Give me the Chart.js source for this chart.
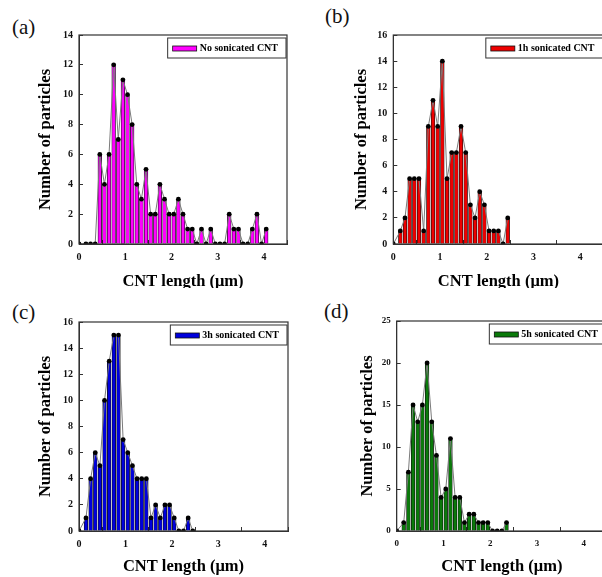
<!DOCTYPE html>
<html>
<head>
<meta charset="utf-8">
<script src="https://cdn.jsdelivr.net/npm/chart.js@4.4.1/dist/chart.umd.min.js"></script>
<style>
  html, body { margin: 0; padding: 0; background: #fff; overflow: hidden; }
  body { width: 602px; height: 577px; position: relative; font-family: "Liberation Serif", "Times New Roman", serif; }
  .panel { position: absolute; overflow: hidden; }
  .tag { position: absolute; font-size: 21px; line-height: 21px; color: #111; }
</style>
</head>
<body>
<div class="tag" style="left:12px;top:17px">(a)</div>
<div class="tag" style="left:325px;top:6px">(b)</div>
<div class="tag" style="left:12px;top:302px">(c)</div>
<div class="tag" style="left:324px;top:301px">(d)</div>

<div class="panel" style="left:0;top:0;width:300px;height:288px"><canvas id="chartA" width="300" height="300"></canvas></div>
<div class="panel" style="left:300px;top:0;width:302px;height:288px"><canvas id="chartB" width="320" height="300"></canvas></div>
<div class="panel" style="left:0;top:288px;width:300px;height:289px"><canvas id="chartC" width="300" height="289"></canvas></div>
<div class="panel" style="left:300px;top:288px;width:302px;height:289px"><canvas id="chartD" width="320" height="289"></canvas></div>

<script>
// bin centres (um) and counts
const lengthsA = [0, 0.15, 0.25, 0.35, 0.45, 0.55, 0.65, 0.75, 0.85, 0.95, 1.05, 1.15, 1.25, 1.35, 1.45, 1.55, 1.65, 1.75, 1.85, 1.95, 2.05,
  2.15, 2.25, 2.35, 2.45, 2.55, 2.65, 2.75, 2.85, 2.95, 3.05, 3.15, 3.25, 3.35, 3.45, 3.55, 3.65, 3.75, 3.85, 3.95, 4.05];
const countsA = [0, 0, 0, 0, 6, 4, 6, 12, 7, 11, 10, 8, 4, 3, 5, 2, 2, 4, 3, 2, 2,
  3, 2, 1, 1, 0, 1, 0, 1, 0, 0, 0, 2, 1, 1, 0, 0, 1, 2, 0, 1];

const lengthsB = [0, 0.15, 0.25, 0.35, 0.45, 0.55, 0.65, 0.75, 0.85, 0.95, 1.05, 1.15, 1.25, 1.35, 1.45, 1.55, 1.65, 1.75, 1.85, 1.95, 2.05,
  2.15, 2.25, 2.35, 2.45];
const countsB = [0, 1, 2, 5, 5, 5, 1, 9, 11, 9, 14, 5, 7, 7, 9, 7, 3, 2, 4, 3, 1, 1, 1, 0, 2];

const lengthsC = [0, 0.15, 0.25, 0.35, 0.45, 0.55, 0.65, 0.75, 0.85, 0.95, 1.05, 1.15, 1.25, 1.35, 1.45, 1.55, 1.65, 1.75, 1.85, 1.95, 2.05,
  2.15, 2.25, 2.35, 2.45];
const countsC = [0, 1, 4, 6, 5, 10, 13, 15, 15, 7, 6, 5, 4, 4, 4, 1, 2, 1, 2, 2, 1, 0, 0, 1, 0];

const lengthsD = [0, 0.15, 0.25, 0.35, 0.45, 0.55, 0.65, 0.75, 0.85, 0.95, 1.05, 1.15, 1.25, 1.35, 1.45, 1.55, 1.65, 1.75, 1.85, 1.95, 2.05,
  2.15, 2.25, 2.35];
const countsD = [0, 1, 7, 15, 13, 15, 20, 13, 9, 4, 5, 11, 4, 4, 1, 2, 2, 1, 1, 1, 0, 0, 0, 1];

const xTicks = [0, 1, 2, 3, 4];
const yTicksA = [0, 2, 4, 6, 8, 10, 12, 14];
const yTicksB = [0, 2, 4, 6, 8, 10, 12, 14, 16];
const yTicksC = [0, 2, 4, 6, 8, 10, 12, 14, 16];
const yTicksD = [0, 5, 10, 15, 20, 25];

const serif = '"Liberation Serif", "Times New Roman", serif';

// box round the plot area
const framePlugin = {
  id: 'frame',
  afterDraw(chart) {
    const { ctx, chartArea: a } = chart;
    ctx.save();
    ctx.strokeStyle = '#333';
    ctx.lineWidth = 1.2;
    ctx.strokeRect(a.left, a.top, a.right - a.left, a.bottom - a.top);
    ctx.restore();
  }
};

// framed legend in the top right corner of the plot
const boxLegend = {
  id: 'boxLegend',
  afterDraw(chart) {
    const { ctx, chartArea: a } = chart;
    const ds = chart.data.datasets[0];
    ctx.save();
    ctx.font = 'bold 10px ' + serif;
    const tw = ctx.measureText(ds.label).width;
    const textRight = a.right - 9;
    const textLeft = textRight - tw;
    const top = a.top + 3;
    const cy = top + 10.5;
    const swLeft = textLeft - 27;
    ctx.fillStyle = '#fff';
    ctx.fillRect(swLeft - 5, top, textRight + 8 - (swLeft - 5), 20);
    ctx.strokeStyle = '#333';
    ctx.lineWidth = 1;
    ctx.strokeRect(swLeft - 5, top, textRight + 8 - (swLeft - 5), 20);
    ctx.fillStyle = ds.backgroundColor;
    ctx.fillRect(swLeft, cy - 2.5, 24, 5);
    ctx.lineWidth = 0.8;
    ctx.strokeStyle = '#111';
    ctx.strokeRect(swLeft, cy - 2.5, 24, 5);
    ctx.fillStyle = '#000';
    ctx.textBaseline = 'middle';
    ctx.fillText(ds.label, textLeft, cy);
    ctx.restore();
  }
};

function makeChart(id, lengths, counts, color, label, yTicks, f) {
  const points = lengths.map((x, i) => ({ x: x, y: counts[i] }));
  return new Chart(document.getElementById(id), {
    type: 'bar',
    data: {
      datasets: [
        { type: 'bar', label: label, data: points, backgroundColor: color, borderColor: '#111',
          borderWidth: 0.7, barThickness: 3.7, order: 2 },
        { type: 'line', label: 'line', data: points, borderColor: '#7a7a7a', borderWidth: 1,
          pointRadius: 2.4, pointBackgroundColor: '#000', pointBorderWidth: 0, tension: 0, order: 1 }
      ]
    },
    options: {
      responsive: false,
      animation: false,
      layout: { padding: { left: 0, top: f.top, right: f.right, bottom: 0 } },
      plugins: { legend: { display: false }, tooltip: { enabled: false } },
      scales: {
        x: {
          type: 'linear', min: 0, max: 4.5, offset: false,
          afterBuildTicks: s => { s.ticks = xTicks.map(v => ({ value: v })); },
          afterFit: s => { s.height = f.xHeight; },
          ticks: { font: { family: serif, size: f.tick, weight: 'bold' }, color: '#111', padding: 11.5, maxRotation: 0, autoSkip: false },
          grid: { drawOnChartArea: false, drawTicks: true, tickLength: -4, color: '#333' },
          border: { color: '#333', width: 1 },
          title: { display: true, text: 'CNT length (μm)', color: '#000',
            font: { family: serif, size: 16.5, weight: 'bold' }, padding: { top: 0, bottom: f.xTitlePad } }
        },
        y: {
          min: 0, max: yTicks[yTicks.length - 1],
          afterBuildTicks: s => { s.ticks = yTicks.map(v => ({ value: v })); },
          afterFit: s => { s.width = f.yWidth; },
          ticks: { font: { family: serif, size: f.tick, weight: 'bold' }, color: '#111', padding: 10, autoSkip: false },
          grid: { drawOnChartArea: false, drawTicks: true, tickLength: -4, color: '#333' },
          border: { color: '#333', width: 1 },
          title: { display: true, text: 'Number of particles', color: '#000',
            font: { family: serif, size: 16.5, weight: 'bold' }, padding: { top: f.yTitlePad, bottom: 0 } }
        }
      }
    },
    plugins: [framePlugin, boxLegend]
  });
}

makeChart('chartA', lengthsA, countsA, '#ff00ff', 'No sonicated CNT', yTicksA,
  { top: 35, right: 13, xHeight: 56, yWidth: 79, xTitlePad: 8, yTitlePad: 36, tick: 10 });
makeChart('chartB', lengthsB, countsB, '#ee0000', '1h sonicated CNT', yTicksB,
  { top: 35, right: 16.5, xHeight: 56, yWidth: 93.3, xTitlePad: 8, yTitlePad: 51.6, tick: 10 });
makeChart('chartC', lengthsC, countsC, '#0000dd', '3h sonicated CNT', yTicksC,
  { top: 34, right: 12, xHeight: 46, yWidth: 79, xTitlePad: 0, yTitlePad: 36, tick: 10 });
makeChart('chartD', lengthsD, countsD, '#0a7a0a', '5h sonicated CNT', yTicksD,
  { top: 33, right: 13, xHeight: 46, yWidth: 96.7, xTitlePad: 0, yTitlePad: 58, tick: 9 });
</script>
</body>
</html>
